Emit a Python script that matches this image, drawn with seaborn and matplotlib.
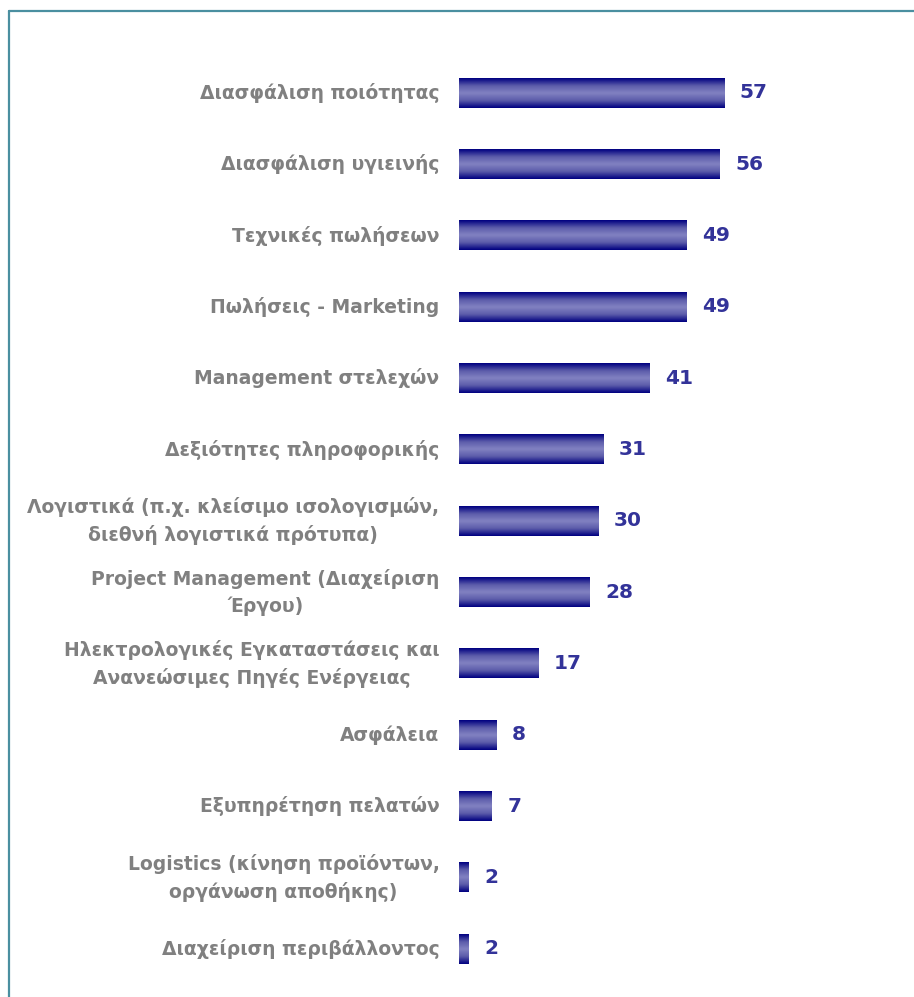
import numpy as np
import pandas as pd
import matplotlib
matplotlib.use("Agg")
import matplotlib.pyplot as plt
from matplotlib.colors import LinearSegmentedColormap
from matplotlib.lines import Line2D
import seaborn as sns

# data
categories = [
    "Διασφάλιση ποιότητας",
    "Διασφάλιση υγιεινής",
    "Τεχνικές πωλήσεων",
    "Πωλήσεις - Marketing",
    "Management στελεχών",
    "Δεξιότητες πληροφορικής",
    "Λογιστικά (π.χ. κλείσιμο ισολογισμών,\nδιεθνή λογιστικά πρότυπα)",
    "Project Management (Διαχείριση\nΈργου)",
    "Ηλεκτρολογικές Εγκαταστάσεις και\nΑνανεώσιμες Πηγές Ενέργειας",
    "Ασφάλεια",
    "Εξυπηρέτηση πελατών",
    "Logistics (κίνηση προϊόντων,\nοργάνωση αποθήκης)",
    "Διαχείριση περιβάλλοντος",
]
values = [57, 56, 49, 49, 41, 31, 30, 28, 17, 8, 7, 2, 2]

df = pd.DataFrame({"category": categories, "value": values})

sns.set_style("white")
plt.rcParams["font.family"] = ["DejaVu Sans"]

fig = plt.figure(figsize=(9.14, 9.97), dpi=100)
ax = fig.add_axes([0.502, 0.0124, 0.458, 0.9301])

sns.barplot(data=df, x="value", y="category", orient="h", width=0.41,
            color="#6666b3", ax=ax)

# vertical gradient on each bar: navy edges, lavender middle
grad_cmap = LinearSegmentedColormap.from_list(
    "bar", ["#000080", "#5c5caa", "#8282c2", "#5c5caa", "#000080"])
grad = np.linspace(0, 1, 64).reshape(-1, 1)
for p in ax.patches:
    x0, y0 = p.get_x(), p.get_y()
    w, h = p.get_width(), p.get_height()
    ax.imshow(grad, cmap=grad_cmap, aspect="auto", interpolation="bicubic",
              extent=[x0, x0 + w, y0 + h, y0], zorder=3)
    p.set_visible(False)

ax.set_xlim(0, 90)
ax.set_ylim(len(categories) - 0.5, -0.5)

for i, v in enumerate(values):
    ax.text(v + 3.4, i, str(v), va="center", ha="left", fontsize=14.5,
            fontweight="bold", color="#333399")

ax.set_xlabel("")
ax.set_ylabel("")
ax.set_xticks([])
ax.tick_params(axis="y", length=0, pad=14)
for lab in ax.get_yticklabels():
    lab.set_fontsize(13.5)
    lab.set_fontweight("bold")
    lab.set_color("#808080")
    lab.set_horizontalalignment("right")
    lab.set_verticalalignment("center")
    lab.set_multialignment("center")
    lab.set_linespacing(1.5)
for s in ax.spines.values():
    s.set_visible(False)

# outer frame (top and left edges visible)
fig.add_artist(Line2D([9 / 914, 1.0], [1 - 11.5 / 997] * 2,
                      transform=fig.transFigure, color="#4a8fa0", lw=1.6))
fig.add_artist(Line2D([9 / 914] * 2, [0, 1 - 11.5 / 997],
                      transform=fig.transFigure, color="#4a8fa0", lw=1.6))

fig.savefig("out.png", dpi=100)
